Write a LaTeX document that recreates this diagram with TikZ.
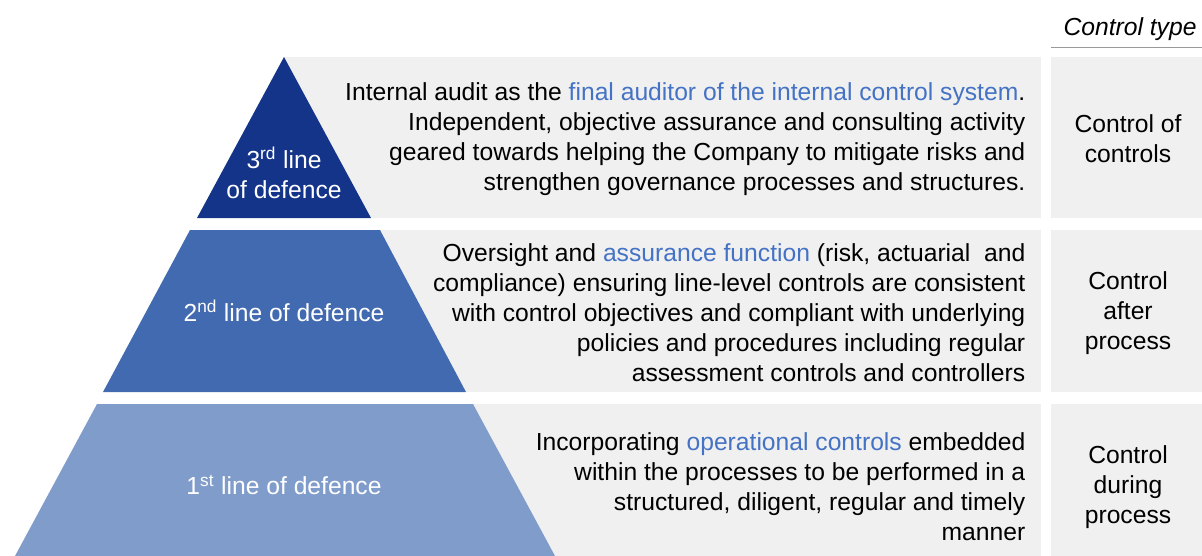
\documentclass[tikz,border=0pt]{standalone}
\usepackage{fontspec}
\setmainfont{Liberation Sans}
\definecolor{navy}{RGB}{20,52,137}
\definecolor{midblue}{RGB}{66,106,176}
\definecolor{paleblue}{RGB}{128,156,203}
\definecolor{bandgrey}{RGB}{240,240,240}
\definecolor{linkblue}{RGB}{68,114,196}
\newcommand{\hl}[1]{\textcolor{linkblue}{#1}}
\newcommand{\bodyfont}{\fontsize{18.5}{22.5}\selectfont}
\begin{document}
\begin{tikzpicture}[x=0.75pt,y=-0.75pt,
    desc/.style={anchor=east,align=right,font=\bodyfont},
    ctype/.style={align=center,font=\bodyfont},
    level/.style={align=center,text=white,font=\bodyfont}]
  \useasboundingbox (0,0) rectangle (1202,556);
  % grey bands behind the pyramid and the control column
  \foreach \top/\bot in {57/218,230/392,404/556} {
    \fill[bandgrey] (284,\top) rectangle (1041,\bot);
    \fill[bandgrey] (1051,\top) rectangle (1202,\bot);
  }
  % pyramid
  \fill[navy] (284,57) -- (371,218) -- (197,218) -- cycle;
  \fill[midblue] (190,230) -- (380,230) -- (466,392) -- (103,392) -- cycle;
  \fill[paleblue] (97,404) -- (473,404) -- (555,556) -- (15,556) -- cycle;
  \node[level] (third) at (284,173) {3\textsuperscript{rd} line\\of defence};
  \node[level] (second) at (284,311) {2\textsuperscript{nd} line of defence};
  \node[level] (first) at (284,485) {1\textsuperscript{st} line of defence};
  % descriptions
  \node[desc] (desc3) at (1030,139) {Internal audit as the \hl{final auditor of the internal control system}.\\
    Independent, objective assurance and consulting activity\\
    geared towards helping the Company to mitigate risks and\\
    strengthen governance processes and structures.};
  \node[desc] (desc2) at (1030,313) {Oversight and \hl{assurance function} (risk, actuarial\ \ and\\
    compliance) ensuring line-level controls are consistent\\
    with control objectives and compliant with underlying\\
    policies and procedures including regular\\
    assessment controls and controllers};
  \node[desc] (desc1) at (1030,487) {Incorporating \hl{operational controls} embedded\\
    within the processes to be performed in a\\
    structured, diligent, regular and timely\\
    manner};
  % control type column
  \draw[gray!80] (1051,47) -- (1202,47);
  \node[ctype,font=\bodyfont\itshape] (head) at (1130,29) {Control type};
  \node[ctype] (type3) at (1128,139) {Control of\\controls};
  \node[ctype] (type2) at (1128,313) {Control\\after\\process};
  \node[ctype] (type1) at (1128,487) {Control\\during\\process};
\end{tikzpicture}
\end{document}
